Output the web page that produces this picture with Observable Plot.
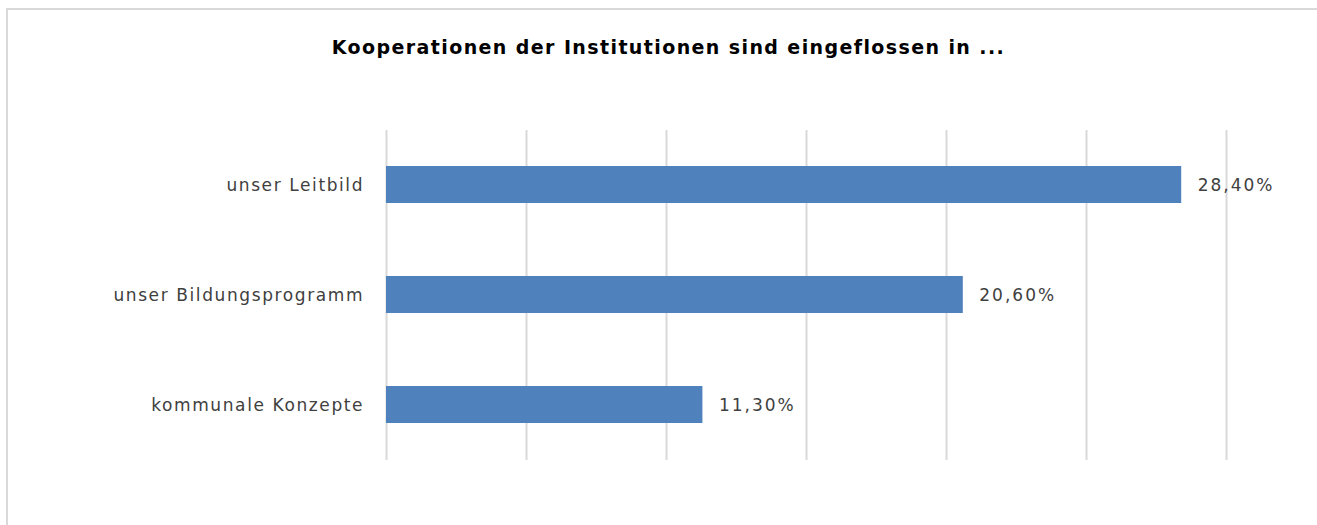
<!DOCTYPE html>
<html>
<head>
<meta charset="utf-8">
<script src="https://cdn.jsdelivr.net/npm/d3@7"></script>
<script src="https://cdn.jsdelivr.net/npm/@observablehq/plot@0.6"></script>
<style>
  html, body { margin: 0; padding: 0; background: #fff; width: 1317px; height: 525px; overflow: hidden; }
  #frame { position: absolute; left: 6px; top: 8px; width: 1400px; height: 600px;
           border-left: 2px solid #d9d9d9; border-top: 2px solid #d9d9d9; }
  #title { position: absolute; left: 0; top: 36px; width: 1337px; text-align: center; line-height: 22px;
           font-family: "DejaVu Sans", sans-serif; font-weight: bold; font-size: 19px; letter-spacing: 1.4px; color: #000; margin: 0; }
  #chart { position: absolute; left: 0; top: 0; }
  #chart .cat text { letter-spacing: 1.6px; }
  #chart .val text { letter-spacing: 2px; }
</style>
</head>
<body>
<div id="frame"></div>
<div id="title">Kooperationen der Institutionen sind eingeflossen in ...</div>
<div id="chart"></div>
<script>
const categories = ["unser Leitbild", "unser Bildungsprogramm", "kommunale Konzepte"];
const values = [28.4, 20.6, 11.3];
const gridTicks = [0, 5, 10, 15, 20, 25, 30];

const data = categories.map((c, i) => ({category: c, value: values[i]}));
const fmt = v => v.toFixed(2).replace(".", ",") + "%";

const chart = Plot.plot({
  width: 1317,
  height: 525,
  marginTop: 130,
  marginBottom: 65,
  marginLeft: 386,
  marginRight: 91,
  style: {fontFamily: "'DejaVu Sans', sans-serif", fontSize: "17px", color: "#404040", background: "transparent"},
  x: {domain: [0, 30], axis: null},
  y: {domain: categories, paddingInner: 0.66, paddingOuter: 0.33, axis: null},
  marks: [
    Plot.ruleX(gridTicks, {stroke: "#d9d9d9", strokeWidth: 2}),
    Plot.barX(data, {x: "value", y: "category", fill: "#4f81bd"}),
    Plot.text(data, {x: 0, y: "category", text: "category", textAnchor: "end", dx: -22.4, dy: 1, fill: "#404040", className: "cat"}),
    Plot.text(data, {x: "value", y: "category", text: d => fmt(d.value), textAnchor: "start", dx: 16, dy: 1, fill: "#404040", className: "val"})
  ]
});
document.getElementById("chart").appendChild(chart);
</script>
</body>
</html>
